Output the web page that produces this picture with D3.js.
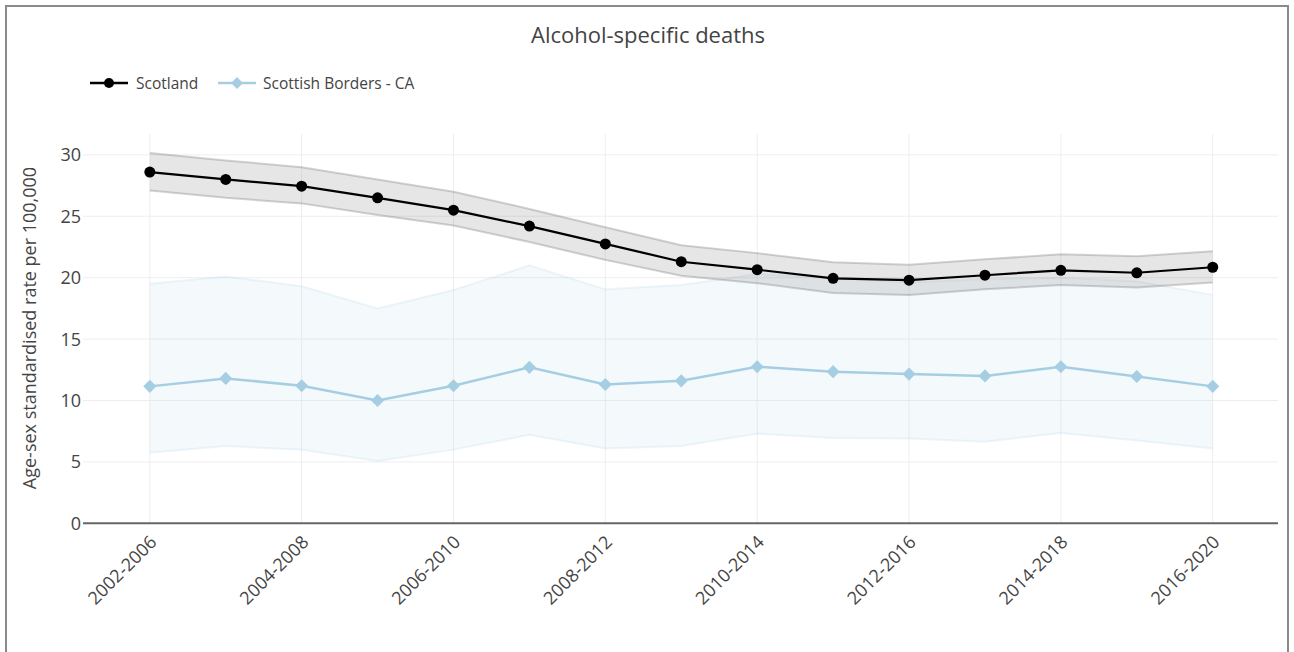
<!DOCTYPE html>
<html>
<head>
<meta charset="utf-8">
<script src="https://cdn.jsdelivr.net/npm/d3@7"></script>
<style>
  html, body { margin: 0; padding: 0; background: #fff; }
  svg { display: block; font-family: "Open Sans", sans-serif; }
</style>
</head>
<body>
<svg id="chart" width="1294" height="652"></svg>
<script>
const periods = ["2002-2006","2003-2007","2004-2008","2005-2009","2006-2010","2007-2011","2008-2012","2009-2013","2010-2014","2011-2015","2012-2016","2013-2017","2014-2018","2015-2019","2016-2020"];
const scotland      = [28.6, 28.0, 27.45, 26.5, 25.5, 24.2, 22.75, 21.3, 20.65, 19.95, 19.8, 20.2, 20.6, 20.4, 20.85];
const scotlandUpper = [30.15, 29.55, 29.0, 28.0, 27.0, 25.6, 24.1, 22.65, 22.0, 21.25, 21.05, 21.5, 21.9, 21.75, 22.15];
const scotlandLower = [27.1, 26.5, 26.05, 25.1, 24.25, 22.9, 21.45, 20.15, 19.55, 18.75, 18.6, 19.05, 19.4, 19.2, 19.6];
const borders       = [11.15, 11.8, 11.2, 10.0, 11.2, 12.7, 11.3, 11.6, 12.75, 12.35, 12.15, 12.0, 12.75, 11.95, 11.15];
const bordersUpper  = [19.5, 20.1, 19.3, 17.5, 19.0, 21.0, 19.05, 19.4, 20.3, 20.0, 19.6, 19.9, 20.0, 19.7, 18.6];
const bordersLower  = [5.75, 6.3, 5.98, 5.08, 6.0, 7.2, 6.1, 6.3, 7.3, 6.95, 6.9, 6.65, 7.35, 6.75, 6.1];
const yTicks = [0, 5, 10, 15, 20, 25, 30];
const xTickLabels = ["2002-2006","2004-2008","2006-2010","2008-2012","2010-2014","2012-2016","2014-2018","2016-2020"];

const svg = d3.select("#chart");
const L = 83, R = 1278, T = 134, B = 523.3;

const x = d3.scaleLinear().domain([-0.88, periods.length - 1 + 0.86]).range([L, R]);
const y = d3.scaleLinear().domain([0, 31.7]).range([B, T]);
const xi = p => x(periods.indexOf(p));

// frame
svg.append("rect").attr("x", 6).attr("y", 6).attr("width", 1282).attr("height", 660)
  .attr("fill", "none").attr("stroke", "#8a8a8a").attr("stroke-width", 2);

// gridlines
svg.append("g").selectAll("line").data(yTicks.filter(d => d > 0)).join("line")
  .attr("x1", L).attr("x2", R).attr("y1", d => y(d)).attr("y2", d => y(d))
  .attr("stroke", "#eeeeee").attr("stroke-width", 1);
svg.append("g").selectAll("line").data(xTickLabels).join("line")
  .attr("x1", d => xi(d)).attr("x2", d => xi(d)).attr("y1", T).attr("y2", B)
  .attr("stroke", "#eeeeee").attr("stroke-width", 1);

const idx = d3.range(periods.length);
const area = (up, lo) => d3.area().x(i => x(i)).y0(i => y(lo[i])).y1(i => y(up[i]));
const line = vals => d3.line().x(i => x(i)).y(i => y(vals[i]));

// Borders band
svg.append("path").datum(idx).attr("d", area(bordersUpper, bordersLower))
  .attr("fill", "rgba(166,206,227,0.12)").attr("stroke", "none");
[bordersUpper, bordersLower].forEach(v => svg.append("path").datum(idx).attr("d", line(v))
  .attr("fill", "none").attr("stroke", "rgba(166,206,227,0.18)").attr("stroke-width", 2));

// Scotland band
svg.append("path").datum(idx).attr("d", area(scotlandUpper, scotlandLower))
  .attr("fill", "rgba(130,130,130,0.2)").attr("stroke", "none");
[scotlandUpper, scotlandLower].forEach(v => svg.append("path").datum(idx).attr("d", line(v))
  .attr("fill", "none").attr("stroke", "rgba(110,110,110,0.3)").attr("stroke-width", 2));

// axis line
svg.append("line").attr("x1", L).attr("x2", R).attr("y1", B).attr("y2", B)
  .attr("stroke", "#666").attr("stroke-width", 2);

// Borders line
const lightBlue = "#a6cee3";
svg.append("path").datum(idx).attr("d", line(borders))
  .attr("fill", "none").attr("stroke", lightBlue).attr("stroke-width", 2.5);
svg.append("g").selectAll("path").data(idx).join("path")
  .attr("d", d3.symbol().type(d3.symbolDiamond2).size(110)())
  .attr("transform", i => `translate(${x(i)},${y(borders[i])})`)
  .attr("fill", lightBlue);

// Scotland line
svg.append("path").datum(idx).attr("d", line(scotland))
  .attr("fill", "none").attr("stroke", "#000").attr("stroke-width", 2.2);
svg.append("g").selectAll("circle").data(idx).join("circle")
  .attr("cx", i => x(i)).attr("cy", i => y(scotland[i])).attr("r", 5.5).attr("fill", "#000");

// y ticks
svg.append("g").selectAll("text").data(yTicks).join("text")
  .attr("x", L - 2).attr("y", d => y(d)).attr("dy", "0.36em")
  .attr("text-anchor", "end").attr("font-size", 18).attr("fill", "#444")
  .text(d => d);

// x ticks
svg.append("g").selectAll("text").data(xTickLabels).join("text")
  .attr("transform", d => `translate(${xi(d) - 1},${B + 11}) rotate(-45)`)
  .attr("text-anchor", "end").attr("dy", "0.71em").attr("font-size", 18).attr("fill", "#444")
  .text(d => d);

// y title
svg.append("text").attr("transform", `translate(36,${328}) rotate(-90)`)
  .attr("text-anchor", "middle").attr("font-size", 18).attr("fill", "#444")
  .text("Age-sex standardised rate per 100,000");

// title
svg.append("text").attr("x", 648).attr("y", 43).attr("text-anchor", "middle")
  .attr("font-size", 22).attr("fill", "#444").text("Alcohol-specific deaths");

// legend
const lg = svg.append("g");
lg.append("line").attr("x1", 90).attr("x2", 128).attr("y1", 83).attr("y2", 83).attr("stroke", "#000").attr("stroke-width", 2.5);
lg.append("circle").attr("cx", 109).attr("cy", 83).attr("r", 5).attr("fill", "#000");
lg.append("text").attr("x", 136).attr("y", 83).attr("dy", "0.36em").attr("font-size", 15.5).attr("fill", "#444").text("Scotland");
lg.append("line").attr("x1", 218).attr("x2", 256).attr("y1", 83).attr("y2", 83).attr("stroke", lightBlue).attr("stroke-width", 2.5);
lg.append("path").attr("d", d3.symbol().type(d3.symbolDiamond2).size(90)()).attr("transform", "translate(237,83)").attr("fill", lightBlue);
lg.append("text").attr("x", 263).attr("y", 83).attr("dy", "0.36em").attr("font-size", 15.5).attr("fill", "#444").text("Scottish Borders - CA");
</script>
</body>
</html>
